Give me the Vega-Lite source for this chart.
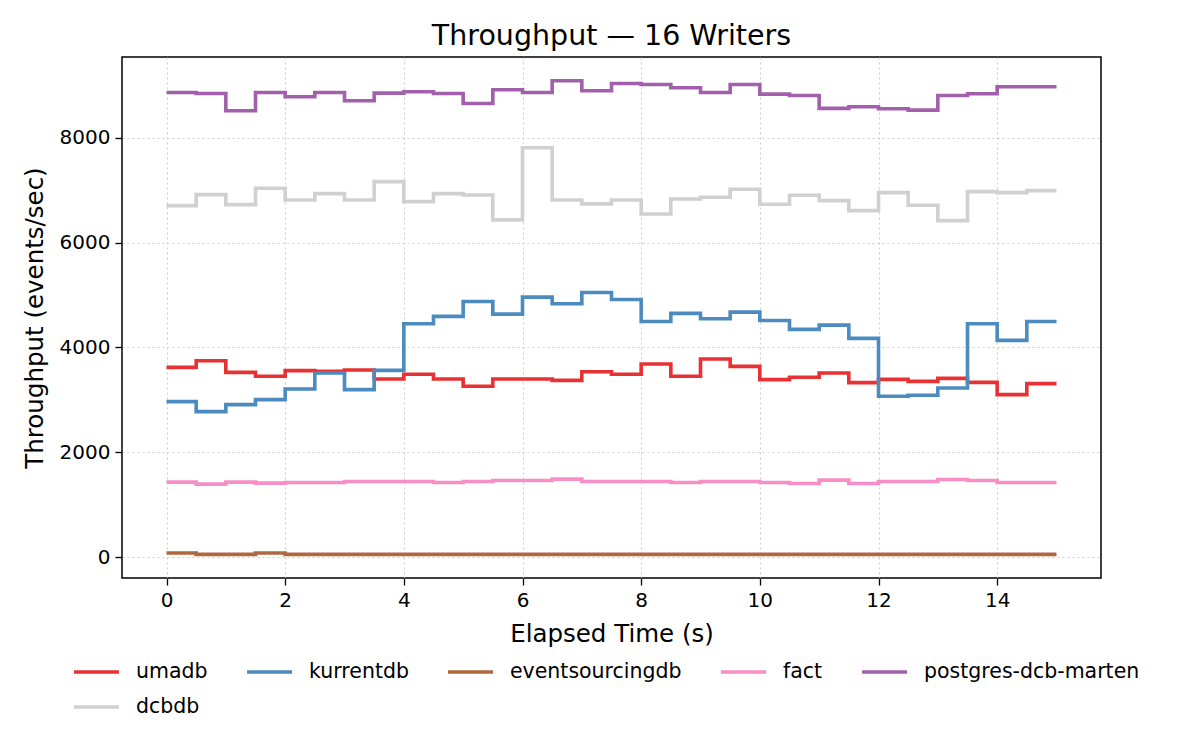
{
  "$schema": "https://vega.github.io/schema/vega-lite/v6.json",
  "autosize": {"type": "none"},
  "padding": {"left": 122, "top": 57, "right": 99, "bottom": 172},
  "width": 979,
  "height": 521,
  "background": "white",
  "title": {"text": "Throughput — 16 Writers", "fontSize": 28.5, "font": "DejaVu Sans", "fontWeight": "normal", "color": "black", "offset": 7, "anchor": "middle"},
  "data": {"values": [
    {"t": 0, "umadb": 3619, "kurrentdb": 2965, "eventsourcingdb": 76, "fact": 1429, "postgres-dcb-marten": 8863, "dcbdb": 6705},
    {"t": 0.5, "umadb": 3746, "kurrentdb": 2774, "eventsourcingdb": 51, "fact": 1391, "postgres-dcb-marten": 8845, "dcbdb": 6914},
    {"t": 1, "umadb": 3524, "kurrentdb": 2908, "eventsourcingdb": 51, "fact": 1429, "postgres-dcb-marten": 8514, "dcbdb": 6724},
    {"t": 1.5, "umadb": 3448, "kurrentdb": 3003, "eventsourcingdb": 76, "fact": 1410, "postgres-dcb-marten": 8863, "dcbdb": 7035},
    {"t": 2, "umadb": 3556, "kurrentdb": 3206, "eventsourcingdb": 51, "fact": 1422, "postgres-dcb-marten": 8781, "dcbdb": 6813},
    {"t": 2.5, "umadb": 3543, "kurrentdb": 3511, "eventsourcingdb": 51, "fact": 1422, "postgres-dcb-marten": 8863, "dcbdb": 6933},
    {"t": 3, "umadb": 3568, "kurrentdb": 3194, "eventsourcingdb": 51, "fact": 1441, "postgres-dcb-marten": 8705, "dcbdb": 6813},
    {"t": 3.5, "umadb": 3397, "kurrentdb": 3562, "eventsourcingdb": 51, "fact": 1441, "postgres-dcb-marten": 8851, "dcbdb": 7162},
    {"t": 4, "umadb": 3486, "kurrentdb": 4451, "eventsourcingdb": 51, "fact": 1441, "postgres-dcb-marten": 8876, "dcbdb": 6781},
    {"t": 4.5, "umadb": 3397, "kurrentdb": 4591, "eventsourcingdb": 51, "fact": 1422, "postgres-dcb-marten": 8845, "dcbdb": 6933},
    {"t": 5, "umadb": 3257, "kurrentdb": 4876, "eventsourcingdb": 51, "fact": 1441, "postgres-dcb-marten": 8654, "dcbdb": 6908},
    {"t": 5.5, "umadb": 3397, "kurrentdb": 4635, "eventsourcingdb": 51, "fact": 1461, "postgres-dcb-marten": 8914, "dcbdb": 6432},
    {"t": 6, "umadb": 3397, "kurrentdb": 4959, "eventsourcingdb": 51, "fact": 1461, "postgres-dcb-marten": 8863, "dcbdb": 7810},
    {"t": 6.5, "umadb": 3371, "kurrentdb": 4832, "eventsourcingdb": 51, "fact": 1486, "postgres-dcb-marten": 9086, "dcbdb": 6813},
    {"t": 7, "umadb": 3536, "kurrentdb": 5048, "eventsourcingdb": 51, "fact": 1441, "postgres-dcb-marten": 8895, "dcbdb": 6737},
    {"t": 7.5, "umadb": 3486, "kurrentdb": 4914, "eventsourcingdb": 51, "fact": 1441, "postgres-dcb-marten": 9035, "dcbdb": 6813},
    {"t": 8, "umadb": 3683, "kurrentdb": 4495, "eventsourcingdb": 51, "fact": 1441, "postgres-dcb-marten": 9016, "dcbdb": 6546},
    {"t": 8.5, "umadb": 3448, "kurrentdb": 4648, "eventsourcingdb": 51, "fact": 1422, "postgres-dcb-marten": 8953, "dcbdb": 6832},
    {"t": 9, "umadb": 3778, "kurrentdb": 4546, "eventsourcingdb": 51, "fact": 1441, "postgres-dcb-marten": 8863, "dcbdb": 6863},
    {"t": 9.5, "umadb": 3638, "kurrentdb": 4673, "eventsourcingdb": 51, "fact": 1441, "postgres-dcb-marten": 9016, "dcbdb": 7016},
    {"t": 10, "umadb": 3384, "kurrentdb": 4514, "eventsourcingdb": 51, "fact": 1422, "postgres-dcb-marten": 8832, "dcbdb": 6730},
    {"t": 10.5, "umadb": 3429, "kurrentdb": 4343, "eventsourcingdb": 51, "fact": 1403, "postgres-dcb-marten": 8806, "dcbdb": 6902},
    {"t": 11, "umadb": 3511, "kurrentdb": 4425, "eventsourcingdb": 51, "fact": 1467, "postgres-dcb-marten": 8559, "dcbdb": 6800},
    {"t": 11.5, "umadb": 3327, "kurrentdb": 4171, "eventsourcingdb": 51, "fact": 1403, "postgres-dcb-marten": 8591, "dcbdb": 6609},
    {"t": 12, "umadb": 3390, "kurrentdb": 3067, "eventsourcingdb": 51, "fact": 1441, "postgres-dcb-marten": 8552, "dcbdb": 6952},
    {"t": 12.5, "umadb": 3352, "kurrentdb": 3086, "eventsourcingdb": 51, "fact": 1441, "postgres-dcb-marten": 8527, "dcbdb": 6711},
    {"t": 13, "umadb": 3409, "kurrentdb": 3225, "eventsourcingdb": 51, "fact": 1480, "postgres-dcb-marten": 8806, "dcbdb": 6419},
    {"t": 13.5, "umadb": 3333, "kurrentdb": 4451, "eventsourcingdb": 51, "fact": 1461, "postgres-dcb-marten": 8838, "dcbdb": 6971},
    {"t": 14, "umadb": 3098, "kurrentdb": 4133, "eventsourcingdb": 51, "fact": 1422, "postgres-dcb-marten": 8972, "dcbdb": 6952},
    {"t": 14.5, "umadb": 3308, "kurrentdb": 4495, "eventsourcingdb": 51, "fact": 1422, "postgres-dcb-marten": 8972, "dcbdb": 6990},
    {"t": 15, "umadb": 3308, "kurrentdb": 4495, "eventsourcingdb": 51, "fact": 1422, "postgres-dcb-marten": 8972, "dcbdb": 6990}
  ]},
  "transform": [
    {"fold": ["umadb", "kurrentdb", "eventsourcingdb", "fact", "postgres-dcb-marten", "dcbdb"], "as": ["db", "v"]}
  ],
  "mark": {"type": "line", "interpolate": "step-after", "strokeWidth": 3.6},
  "encoding": {
    "x": {"field": "t", "type": "quantitative",
      "scale": {"domain": [-0.75, 15.75], "nice": false, "zero": false},
      "axis": {"values": [0, 2, 4, 6, 8, 10, 12, 14], "title": "Elapsed Time (s)", "format": "d", "titlePadding": 12}},
    "y": {"field": "v", "type": "quantitative",
      "scale": {"domain": [-400, 9540], "nice": false, "zero": false},
      "axis": {"values": [0, 2000, 4000, 6000, 8000], "title": "Throughput (events/sec)", "format": "d", "titlePadding": 12}},
    "color": {"field": "db", "type": "nominal",
      "scale": {"domain": ["umadb", "kurrentdb", "eventsourcingdb", "fact", "postgres-dcb-marten", "dcbdb"],
                "range": ["#e73133", "#4b8bbf", "#af673e", "#f88ec6", "#a260ac", "#d0d0d0"]},
      "legend": {"title": null, "orient": "none", "legendX": -50, "legendY": 590.5, "columns": 5, "direction": "horizontal",
        "symbolType": "stroke", "symbolSize": 2025, "symbolStrokeWidth": 3.6, "labelFontSize": 20.5, "labelFont": "DejaVu Sans",
        "labelColor": "black", "labelOffset": 15, "columnPadding": 31, "rowPadding": -11.4, "padding": 0, "labelLimit": 400}}
  },
  "config": {
    "font": "DejaVu Sans",
    "view": {"stroke": "black", "strokeWidth": 1.5},
    "axis": {
      "domain": false,
      "tickColor": "black", "tickSize": 7, "tickWidth": 1.3,
      "labelFont": "DejaVu Sans", "labelFontSize": 20, "labelColor": "black", "labelPadding": 5,
      "titleFont": "DejaVu Sans", "titleFontSize": 24.5, "titleFontWeight": "normal", "titleColor": "black",
      "grid": true, "gridColor": "#cccccc", "gridDash": [2, 3], "gridWidth": 1
    }
  }
}
